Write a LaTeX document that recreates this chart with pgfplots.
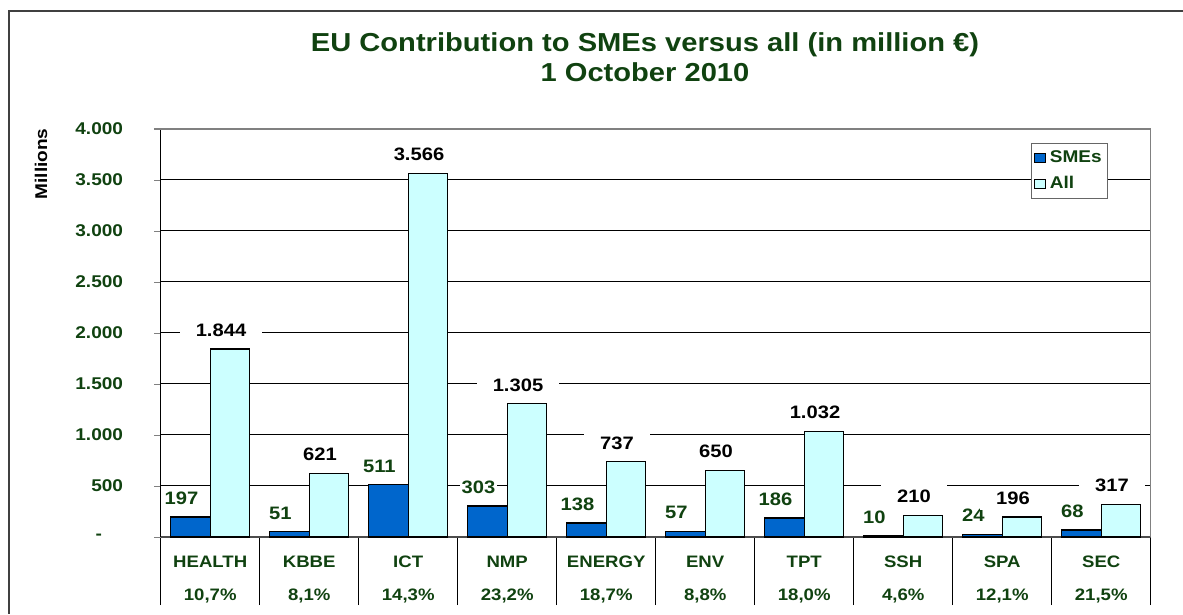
\documentclass[border=0pt]{standalone}
\usepackage{fontspec}
\setmainfont{Liberation Sans}[FakeStretch=1.12]
\usepackage{pgfplots}
\pgfplotsset{compat=1.18}
\definecolor{dkgreen}{RGB}{16,66,16}
\definecolor{smeblue}{RGB}{0,102,204}
\definecolor{allcyan}{RGB}{204,255,255}
\definecolor{bordergray}{RGB}{128,128,128}
\pgfplotsset{
  sqlegend/.style={legend image code/.code={%
    \draw[##1, draw=black, line width=0.5pt] (0.5pt,-2.2pt) rectangle (6pt,2.4pt);}},
}
\begin{document}
\begin{tikzpicture}
\begin{axis}[
  scale only axis, width=495pt, height=204pt,
  clip=false,
  xmin=-0.5, xmax=9.5, ymin=0, ymax=4000,
  axis x line*=bottom, axis y line*=left,
  x axis line style={draw=black!70, line width=1pt},
  y axis line style={draw=black, line width=0.5pt},
  ybar, bar width=0.4,
  ymajorgrids, major grid style={black, line width=0.5pt},
  tick align=outside,
  major tick length=3.3pt,
  major x tick style={draw=none},
  minor xtick={-0.5,0.5,...,9.5},
  minor tick length=34pt,
  minor x tick style={black, line width=0.5pt},
  ytick={0,500,...,4000},
  yticklabels={-\hphantom{00},500,1.000,1.500,2.000,2.500,3.000,3.500,4.000},
  yticklabel style={font=\bfseries\fontsize{8.5}{10}\selectfont, text=dkgreen, xshift=-12pt},
  xtick={0,...,9},
  xticklabels={{HEALTH\\[6.5pt]10,7\%},{KBBE\\[6.5pt]8,1\%},{ICT\\[6.5pt]14,3\%},
    {NMP\\[6.5pt]23,2\%},{ENERGY\\[6.5pt]18,7\%},{ENV\\[6.5pt]8,8\%},
    {TPT\\[6.5pt]18,0\%},{SSH\\[6.5pt]4,6\%},{SPA\\[6.5pt]12,1\%},{SEC\\[6.5pt]21,5\%}},
  xticklabel style={font=\bfseries\fontsize{8.3}{10}\selectfont, text=dkgreen, align=center, yshift=-2.5pt},
  /pgf/number format/1000 sep={.},
  /pgf/number format/assume math mode=true,
  every node near coord/.append style={font=\bfseries\fontsize{9}{10.8}\selectfont,
    fill=white, inner ysep=3pt, xshift=-4.5pt, yshift=3pt},
  legend style={at={(rel axis cs:0.957,0.9657)}, anchor=north east,
    draw=black!60, fill=white, text=dkgreen,
    font=\bfseries\fontsize{8.5}{10}\selectfont,
    inner xsep=1pt, inner ysep=1.5pt, row sep=1.5pt},
  legend cell align=left,
]
% frame, title, plot border
\draw[black!75, line width=1pt] (rel axis cs:-0.1532,-0.1887) -- (rel axis cs:-0.1532,1.2892) -- (rel axis cs:1.0326,1.2892);
\draw[bordergray, line width=0.75pt] (rel axis cs:-0.0068,1) -- (rel axis cs:1,1) -- (rel axis cs:1,0);
\node[anchor=base, text=dkgreen, font=\bfseries\fontsize{13}{15.6}\selectfont] at (rel axis cs:0.4892,1.1887) {EU Contribution to SMEs versus all (in million €)};
\node[anchor=base, text=dkgreen, font=\bfseries\fontsize{13}{15.6}\selectfont] at (rel axis cs:0.4892,1.1152) {1 October 2010};
\node[rotate=90, font=\bfseries\fontsize{8.5}{10}\selectfont] at (rel axis cs:-0.1209,0.9142) {Millions};
\coordinate (bbsw) at (rel axis cs:-0.16232,-0.18873);
\coordinate (bbne) at (rel axis cs:1.03263,1.31618);

\addplot[fill=smeblue, draw=black, line width=0.6pt, bar shift=-0.2,
  nodes near coords, every node near coord/.append style={text=dkgreen, inner xsep=1pt}, sqlegend]
  coordinates {(0,197) (1,51) (2,511) (3,303) (4,138) (5,57) (6,186) (7,10) (8,24) (9,68)};
\addplot[fill=allcyan, draw=black, line width=0.6pt, bar shift=0.2,
  nodes near coords, every node near coord/.append style={text=black, inner xsep=8pt}, sqlegend]
  coordinates {(0,1844) (1,621) (2,3566) (3,1305) (4,737) (5,650) (6,1032) (7,210) (8,196) (9,317)};
\legend{SMEs, All}
\end{axis}
\pgfresetboundingbox
\useasboundingbox (bbsw) rectangle (bbne);
\end{tikzpicture}
\end{document}
